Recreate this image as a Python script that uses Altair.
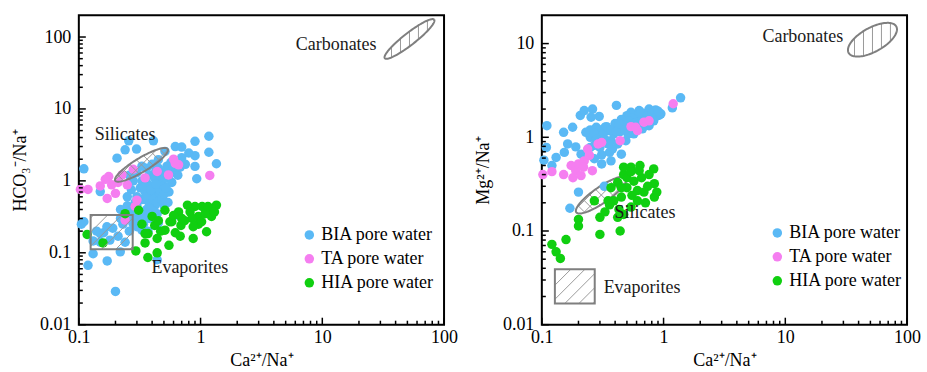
import altair as alt
import numpy as np
import pandas as pd

SERIES = ["BIA pore water", "TA pore water", "HIA pore water"]
COLORS = ["#5AB9F5", "#F57EF0", "#10CF10"]

# ---------------- left panel: HCO3-/Na+ vs Ca2+/Na+ ----------------
BIA_L_x = [0.11, 0.11, 0.105, 0.119, 0.131, 0.131, 0.15, 0.171, 0.15, 0.2, 0.219, 0.206, 0.24, 0.257, 0.298, 0.41,
           0.62, 0.70, 0.9, 1.17, 1.17, 1.35, 0.9, 0.9, 0.93, 0.8, 0.45, 0.51, 0.57, 0.62, 0.45, 0.33, 0.44,
           0.14, 0.16, 0.17, 0.19, 0.18, 0.21, 0.23, 0.24, 0.26, 0.22, 0.15, 0.25, 0.27,
           0.28, 0.3, 0.3, 0.32, 0.33, 0.35, 0.35, 0.36, 0.37, 0.38, 0.4, 0.4, 0.41, 0.42, 0.43, 0.44, 0.45, 0.46,
           0.47, 0.48, 0.5, 0.5, 0.52, 0.53, 0.55, 0.56, 0.58, 0.6, 0.62, 0.65, 0.68, 0.7, 0.75, 0.27, 0.25, 0.3,
           0.32, 0.34, 0.38, 0.42, 0.36, 0.4, 0.45, 0.28, 0.26, 0.33, 0.22, 0.25, 0.37, 0.3,
           0.29, 0.31, 0.33, 0.34, 0.36, 0.38, 0.39, 0.41, 0.43, 0.44, 0.46, 0.48, 0.5, 0.52, 0.54, 0.31, 0.35,
           0.39, 0.28, 0.26]
BIA_L_y = [1.47, 0.27, 0.25, 0.067, 0.097, 0.146, 0.71, 0.077, 0.185, 0.029, 0.103, 2.07, 2.7, 3.6, 2.77, 3.6,
           3.0, 2.95, 3.55, 4.17, 2.5, 1.73, 2.24, 1.59, 1.07, 2.44, 1.97, 2.57, 1.8, 0.334, 0.26, 0.206, 0.08,
           0.2, 0.19, 0.23, 0.22, 0.15, 0.17, 0.25, 0.14, 0.2, 0.3, 0.14, 0.32, 0.28,
           0.35, 0.45, 0.6, 0.8, 1.0, 0.55, 0.7, 0.4, 0.9, 1.2, 0.5, 0.65, 0.8, 1.1, 1.4, 0.35, 0.6, 0.75,
           1.0, 1.3, 0.45, 0.85, 1.1, 1.6, 0.7, 1.25, 0.95, 1.5, 1.9, 1.2, 1.55, 2.1, 1.7, 0.75, 0.6, 1.3,
           0.3, 0.25, 0.3, 0.45, 1.5, 1.7, 1.5, 1.0, 1.2, 1.6, 0.4, 0.45, 0.2, 0.23,
           0.5, 0.38, 0.55, 0.85, 0.6, 0.48, 0.75, 0.55, 0.9, 0.5, 1.2, 0.55, 0.65, 0.8, 0.5, 0.28, 0.33,
           0.4, 0.25, 0.38]
TA_L_x = [0.103, 0.119, 0.15, 0.176, 0.186, 0.171, 0.2, 0.226, 0.25, 0.29, 0.3, 0.24, 0.28, 0.44, 0.545, 0.6,
          0.66, 1.19, 0.165, 0.21, 0.35, 0.62]
TA_L_y = [0.76, 0.76, 0.85, 1.15, 0.88, 0.57, 0.67, 1.21, 0.88, 0.44, 0.54, 0.285, 1.45, 1.35, 1.21, 2.0,
          1.67, 1.19, 1.05, 0.95, 1.1, 1.75]
HIA_L_x = [0.117, 0.158, 0.24, 0.294, 0.369, 0.44, 0.35, 0.37, 0.44, 0.51, 0.55, 0.58, 0.69, 0.68, 0.87, 1.12,
           1.23, 1.35, 1.23, 1.03, 0.9, 0.78, 0.82, 0.96, 0.66, 0.56, 0.51, 0.42, 0.33, 0.4, 0.74, 0.96, 1.09,
           1.02, 0.87, 0.62, 0.35, 0.31, 1.15, 0.7, 0.6, 0.85, 1.3, 0.47, 0.45]
HIA_L_y = [0.18, 0.137, 0.35, 0.106, 0.086, 0.1, 0.137, 0.185, 0.158, 0.206, 0.127, 0.27, 0.24, 0.17, 0.158,
           0.196, 0.32, 0.46, 0.41, 0.44, 0.44, 0.46, 0.37, 0.32, 0.37, 0.27, 0.39, 0.24, 0.25, 0.32, 0.28,
           0.25, 0.35, 0.27, 0.23, 0.19, 0.185, 0.39, 0.44, 0.3, 0.33, 0.3, 0.37, 0.2, 0.28]

# ---------------- right panel: Mg2+/Na+ vs Ca2+/Na+ ----------------
BIA_R_x = [0.11, 0.109, 0.104, 0.121, 0.131, 0.151, 0.153, 0.163, 0.179, 0.19, 0.207, 0.223, 0.261, 0.254,
           0.296, 0.41, 0.2, 0.17, 0.326, 0.27, 0.31, 0.37,
           0.54, 0.63, 0.76, 0.86, 0.89, 1.18, 1.38, 0.92, 0.8, 0.69, 0.61, 0.5, 0.47, 0.42, 0.35, 0.29, 0.25,
           0.23, 0.25, 0.3, 0.36, 0.42, 0.49, 0.57, 0.67, 0.76, 0.83, 0.39, 0.33, 0.28, 0.54, 0.63, 0.95, 0.45,
           0.37, 0.51, 0.3, 0.33, 0.4, 0.45, 0.5, 0.55, 0.6, 0.7, 0.72, 0.65, 0.44, 0.38, 0.31, 0.27, 0.21,
           0.25, 0.27, 0.32, 0.34, 0.37, 0.41, 0.43, 0.48, 0.52, 0.58, 0.66, 0.74, 0.8, 0.9, 0.35, 0.28]
BIA_R_y = [1.33, 0.78, 0.57, 0.5, 0.61, 1.13, 0.69, 0.85, 1.28, 0.79, 1.71, 1.93, 2.0, 1.64, 1.67, 2.19, 0.26,
           0.175, 0.3, 0.59, 0.52, 0.92,
           1.85, 1.93, 2.0, 1.96, 1.7, 2.06, 2.64, 1.72, 1.5, 1.57, 1.7, 1.7, 1.39, 1.28, 1.18, 1.04, 1.0,
           1.13, 0.78, 0.78, 0.69, 0.85, 0.92, 1.09, 1.23, 1.33, 1.5, 1.09, 1.28, 1.28, 1.39, 1.45, 1.78, 0.66,
           0.56, 1.09, 1.2, 0.95, 1.4, 1.55, 1.35, 1.6, 1.3, 1.8, 1.6, 1.85, 1.15, 0.75, 0.65, 0.82, 0.66,
           1.2, 1.1, 1.1, 1.3, 1.2, 1.15, 1.4, 1.2, 1.5, 1.4, 1.5, 1.7, 1.8, 1.9, 0.85, 0.95]
TA_R_x = [0.102, 0.121, 0.151, 0.174, 0.19, 0.18, 0.21, 0.2, 0.223, 0.238, 0.246, 0.26, 0.29, 0.44, 0.54, 0.61,
          0.69, 0.76, 1.2, 0.59, 0.22, 0.31]
TA_R_y = [0.4, 0.43, 0.4, 0.5, 0.44, 0.37, 0.39, 0.52, 0.56, 0.75, 0.64, 0.44, 0.85, 0.92, 1.3, 1.18, 1.45, 1.5,
          2.28, 1.28, 0.48, 0.88]
HIA_R_x = [0.121, 0.131, 0.142, 0.158, 0.2, 0.2, 0.27, 0.3, 0.3, 0.35, 0.44, 0.42, 0.47, 0.54, 0.61, 0.71, 0.84,
           0.84, 0.83, 0.64, 0.54, 0.47, 0.42, 0.37, 0.39, 0.5, 0.57, 0.66, 0.74, 0.61, 0.45, 0.55, 0.69, 0.76,
           0.5, 0.45, 0.36, 0.33, 0.43, 0.54, 0.63, 0.88, 0.47]
HIA_R_y = [0.072, 0.06, 0.051, 0.081, 0.133, 0.113, 0.21, 0.14, 0.092, 0.21, 0.1, 0.14, 0.15, 0.18, 0.21, 0.2,
           0.23, 0.32, 0.46, 0.5, 0.48, 0.4, 0.33, 0.29, 0.21, 0.29, 0.34, 0.37, 0.3, 0.27, 0.23, 0.24, 0.26,
           0.4, 0.37, 0.29, 0.19, 0.16, 0.17, 0.43, 0.44, 0.26, 0.48]

X_LABELS = [0.1, 1, 10, 100]
Y_LABELS_L = [0.01, 0.1, 1, 10, 100]
Y_LABELS_R = [0.01, 0.1, 1, 10]

FONT = "Liberation Serif"
W, H = 366, 310
X_DOM = [0.1, 100]
YL_DOM = [0.01, 200]
YR_DOM = [0.01, 20]
GRAY = "#7f7f7f"
HATCH = "#9a9a9a"


def minor_ticks(lo, hi):
    out = []
    for e in range(-3, 4):
        for m in range(2, 10):
            v = m * 10.0 ** e
            if lo < v < hi * 0.999:
                out.append(v)
    return out


def major_ticks(lo, hi, vals):
    return [v for v in vals if lo <= v <= hi]


def ellipse_shape(cx, cy, a, b, theta, angles, spacing, kx, ky):
    X0, Y0 = np.log10(cx) * kx, np.log10(cy) * ky
    th = np.radians(theta)
    c, s = np.cos(th), np.sin(th)
    t = np.linspace(0, 2 * np.pi, 121)
    ex = a * np.cos(t) * c - b * np.sin(t) * s
    ey = a * np.cos(t) * s + b * np.sin(t) * c
    outline = pd.DataFrame({"x": 10 ** ((X0 + ex) / kx), "y": 10 ** ((Y0 + ey) / ky), "o": np.arange(t.size)})
    rows = []
    for ang in angles:
        p = np.radians(ang)
        d = np.array([np.cos(p), np.sin(p)])
        n = np.array([-np.sin(p), np.cos(p)])
        for k in range(-40, 41):
            base = n * k * spacing
            P = np.array([base[0] * c + base[1] * s, -base[0] * s + base[1] * c])
            D = np.array([d[0] * c + d[1] * s, -d[0] * s + d[1] * c])
            A = D[0] ** 2 / a ** 2 + D[1] ** 2 / b ** 2
            B = 2 * (P[0] * D[0] / a ** 2 + P[1] * D[1] / b ** 2)
            C = P[0] ** 2 / a ** 2 + P[1] ** 2 / b ** 2 - 1
            disc = B * B - 4 * A * C
            if disc <= 0:
                continue
            r = np.sqrt(disc)
            p1 = base + d * (-B - r) / (2 * A)
            p2 = base + d * (-B + r) / (2 * A)
            rows.append({"x": 10 ** ((X0 + p1[0]) / kx), "y": 10 ** ((Y0 + p1[1]) / ky),
                         "x2": 10 ** ((X0 + p2[0]) / kx), "y2": 10 ** ((Y0 + p2[1]) / ky)})
    return outline, pd.DataFrame(rows)


def rect_shape(x0, x1, y0, y1, angle, spacing, kx, ky):
    lo = np.array([np.log10(x0) * kx, np.log10(y0) * ky])
    hi = np.array([np.log10(x1) * kx, np.log10(y1) * ky])
    cen = (lo + hi) / 2
    p = np.radians(angle)
    d = np.array([np.cos(p), np.sin(p)])
    n = np.array([-np.sin(p), np.cos(p)])
    rows = []
    for k in range(-40, 41):
        base = cen + n * (k + 0.5) * spacing
        tmin, tmax = -1e9, 1e9
        for i in range(2):
            ta = (lo[i] - base[i]) / d[i]
            tb = (hi[i] - base[i]) / d[i]
            tmin = max(tmin, min(ta, tb))
            tmax = min(tmax, max(ta, tb))
        if tmax - tmin > 0.5:
            p1 = base + d * tmin
            p2 = base + d * tmax
            rows.append({"x": 10 ** (p1[0] / kx), "y": 10 ** (p1[1] / ky),
                         "x2": 10 ** (p2[0] / kx), "y2": 10 ** (p2[1] / ky)})
    box = pd.DataFrame({"x": [x0], "x2": [x1], "y": [y0], "y2": [y1]})
    return box, pd.DataFrame(rows)


def panel(bx, by, tx, ty, hx, hy, ydom, ylabels, ytitle, shapes, texts, legend_xy, shapes_on_top):
    assert len(bx) == len(by) and len(tx) == len(ty) and len(hx) == len(hy)
    kx = W / np.log10(X_DOM[1] / X_DOM[0])
    ky = H / np.log10(ydom[1] / ydom[0])
    xs = alt.Scale(type="log", domain=X_DOM, nice=False)
    ys = alt.Scale(type="log", domain=ydom, nice=False)
    xaxis = alt.Axis(values=X_LABELS, format="~g", ticks=False, tickSize=0, domain=False, grid=False,
                     labelFlush=False, labelOverlap=False, labelFont=FONT, labelFontSize=18,
                     labelColor="black", labelPadding=4, title="Ca²⁺/Na⁺", titleFont=FONT,
                     titleFontSize=18, titleFontWeight="normal", titleColor="black", titlePadding=5)
    yaxis = alt.Axis(values=ylabels, format="~g", ticks=False, tickSize=0, domain=False, grid=False,
                     labelFlush=False, labelOverlap=False, labelFont=FONT, labelFontSize=18,
                     labelColor="black", labelPadding=8, title=ytitle, titleFont=FONT,
                     titleFontSize=18, titleFontWeight="normal", titleColor="black", titlePadding=10)
    X = lambda f: alt.X(f, scale=xs, axis=xaxis)
    Y = lambda f: alt.Y(f, scale=ys, axis=yaxis)

    df = pd.DataFrame({
        "x": bx + tx + hx,
        "y": by + ty + hy,
        "s": [SERIES[0]] * len(bx) + [SERIES[1]] * len(tx) + [SERIES[2]] * len(hx),
    })
    pts = alt.Chart(df).mark_circle(size=90, opacity=1).encode(
        x=X("x:Q"), y=Y("y:Q"),
        color=alt.Color("s:N", scale=alt.Scale(domain=SERIES, range=COLORS),
                        legend=alt.Legend(orient="none", legendX=legend_xy[0], legendY=legend_xy[1],
                                          title=None, labelFont=FONT, labelFontSize=18, labelColor="black",
                                          symbolType="circle", symbolSize=90, symbolStrokeWidth=0,
                                          rowPadding=6, labelOffset=3, padding=0)),
    )

    shape_layers = []
    for kind, spec in shapes:
        if kind == "ellipse":
            outline, hatch = ellipse_shape(*spec, kx, ky)
            shape_layers.append(alt.Chart(hatch).mark_rule(color=HATCH, strokeWidth=1).encode(
                x=X("x:Q"), y=Y("y:Q"), x2="x2:Q", y2="y2:Q"))
            shape_layers.append(alt.Chart(outline).mark_line(color=GRAY, strokeWidth=2).encode(
                x=X("x:Q"), y=Y("y:Q"), order="o:Q"))
        else:
            box, hatch = rect_shape(*spec, kx, ky)
            shape_layers.append(alt.Chart(hatch).mark_rule(color=HATCH, strokeWidth=1).encode(
                x=X("x:Q"), y=Y("y:Q"), x2="x2:Q", y2="y2:Q"))
            shape_layers.append(alt.Chart(box).mark_rect(fillOpacity=0, stroke=GRAY, strokeWidth=2).encode(
                x=X("x:Q"), y=Y("y:Q"), x2="x2:Q", y2="y2:Q"))

    text_layers = []
    for label, xv, yv, align in texts:
        tdf = pd.DataFrame({"x": [xv], "y": [yv], "t": [label]})
        text_layers.append(alt.Chart(tdf).mark_text(align=align, baseline="middle", font=FONT, fontSize=18,
                                                     color="#1a1a1a").encode(
            x=X("x:Q"), y=Y("y:Q"), text="t:N"))

    ymaj = pd.DataFrame({"v": major_ticks(ydom[0], ydom[1], ylabels)})
    ymin = pd.DataFrame({"v": minor_ticks(ydom[0], ydom[1])})
    xmaj = pd.DataFrame({"v": major_ticks(X_DOM[0], X_DOM[1], X_LABELS)})
    xmin = pd.DataFrame({"v": minor_ticks(X_DOM[0], X_DOM[1])})
    tk = dict(color="black", strokeWidth=1.5)
    ticks = [
        alt.Chart(ymaj).mark_rule(**tk).encode(y=Y("v:Q"), x=alt.value(0), x2=alt.value(7)),
        alt.Chart(ymin).mark_rule(**tk).encode(y=Y("v:Q"), x=alt.value(0), x2=alt.value(4)),
        alt.Chart(xmaj).mark_rule(**tk).encode(x=X("v:Q"), y=alt.value(H), y2=alt.value(H - 7)),
        alt.Chart(xmin).mark_rule(**tk).encode(x=X("v:Q"), y=alt.value(H), y2=alt.value(H - 4)),
    ]
    if shapes_on_top:
        layers = [pts] + shape_layers + text_layers + ticks
    else:
        layers = shape_layers + [pts] + text_layers + ticks
    return alt.layer(*layers).properties(width=W, height=H)


left = panel(
    BIA_L_x, BIA_L_y, TA_L_x, TA_L_y, HIA_L_x, HIA_L_y, YL_DOM, Y_LABELS_L, "HCO₃⁻/Na⁺",
    shapes=[
        ("ellipse", (52.0, 94.0, 31.4, 6.0, 38.0, [90], 9.0)),
        ("ellipse", (0.327, 1.67, 30.7, 7.0, 31.0, [45, 135], 8.0)),
        ("rect", (0.125, 0.277, 0.112, 0.334, 45, 10.0)),
    ],
    texts=[("Carbonates", 27.9, 77.0, "right"), ("Silicates", 0.135, 4.4, "left"),
           ("Evaporites", 0.395, 0.061, "left")],
    legend_xy=(222, 211), shapes_on_top=True,
)

right = panel(
    BIA_R_x, BIA_R_y, TA_R_x, TA_R_y, HIA_R_x, HIA_R_y, YR_DOM, Y_LABELS_R, "Mg²⁺/Na⁺",
    shapes=[
        ("ellipse", (52.0, 11.0, 27.3, 12.0, 29.0, [90], 9.0)),
        ("ellipse", (0.308, 0.242, 30.5, 8.0, 34.6, [45, 135], 8.0)),
        ("rect", (0.128, 0.272, 0.0168, 0.039, 45, 10.0)),
    ],
    texts=[("Carbonates", 29.9, 11.8, "right"), ("Silicates", 0.396, 0.157, "left"),
           ("Evaporites", 0.322, 0.0247, "left")],
    legend_xy=(227, 209), shapes_on_top=False,
)

chart = alt.hconcat(left, right, spacing=98, bounds="flush").resolve_scale(
    color="independent").resolve_legend(color="independent").properties(
    padding={"left": 10, "top": 13, "right": 5, "bottom": 5}, background="white"
).configure_view(stroke="black", strokeWidth=2)

chart.save("out.html", embed_options={"renderer": "svg", "actions": False})
